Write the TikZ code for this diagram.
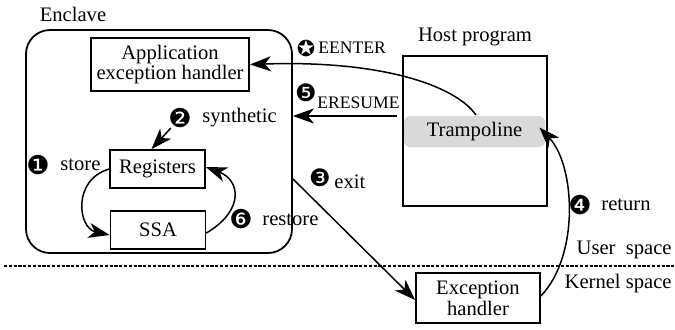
\documentclass[tikz,border=0pt]{standalone}
\usepackage{fontspec}
\setmainfont{Liberation Serif}
\newfontfamily\dvfont{DejaVu Sans}
\usetikzlibrary{arrows.meta}
\begin{document}
\begin{tikzpicture}[x=0.5pt,y=-0.5pt,
  font=\fontsize{10.3}{10.4}\selectfont,
  arr/.style={-{Stealth[length=10.5pt,width=7.5pt,inset=3pt]}, line width=0.75pt},
  box/.style={draw, line width=0.9pt, inner sep=0pt, align=center},
  num/.style={font=\dvfont\fontsize{13}{13}\selectfont, inner sep=0pt},
  lbl/.style={inner sep=0pt, anchor=west},
  small/.style={inner sep=0pt, anchor=west, font=\fontsize{8.8}{9}\selectfont}]
\useasboundingbox (0,0) rectangle (675,329);
% enclave
\node (encl) [draw, line width=0.9pt, rounded corners=12pt, minimum width=133pt, minimum height=111.5pt, inner sep=0pt] at (159,141.5) {};
\node (enclt) at (73,14) {Enclave};
\node (app) [box, minimum width=79pt, minimum height=26.5pt] at (170,64.5) {Application\\exception handler};
\node (reg) [box, minimum width=47.5pt, minimum height=19pt] at (157.5,169) {Registers};
\node (ssa) [box, minimum width=47.5pt, minimum height=19pt] at (158,230) {SSA};
% host
\node (host) [box, minimum width=72pt, minimum height=75pt] at (475,131) {};
\node (hostt) at (475,37) {Host program};
\node (tramp) [fill=black!15, rounded corners=3pt, minimum width=70.5pt, minimum height=15.5pt, inner sep=0pt] at (474.5,131.5) {Trampoline};
\node (exc) [box, minimum width=62pt, minimum height=25pt] at (478,298) {Exception\\handler};
% labels
\node (n2) [num] at (180,118) {❷};
\node (l2) [lbl] at (202,118) {synthetic};
\node (n1) [num] at (38,165) {❶};
\node (l1) [lbl] at (60,165) {store};
\node (n6) [num] at (241,219) {❻};
\node (l6) [lbl] at (262,220) {restore};
\node (ns) [num, font=\dvfont\fontsize{11}{11}\selectfont] at (306,48) {✪};
\node (ls) [small] at (318,48) {EENTER};
\node (n5) [num, font=\dvfont\fontsize{12}{12}\selectfont] at (306,93) {❺};
\node (l5) [small] at (317,103) {ERESUME};
\node (n3) [num, font=\dvfont\fontsize{12}{12}\selectfont] at (320,178) {❸};
\node (l3) [lbl] at (334,182) {exit};
\node (n4) [num] at (580,205) {❹};
\node (l4) [lbl] at (601,205) {return};
\node (us) [inner sep=0pt, anchor=east] at (672,250) {User\ \ space};
\node (ks) [inner sep=0pt, anchor=east] at (672,284) {Kernel space};
% dashed line
\coordinate (dl) at (4,266);
\coordinate (dr) at (675,266);
\draw[dash pattern=on 1.6pt off 0.8pt, line width=0.7pt] (dl) -- (dr);
% arrows
\coordinate (tn) at (476,115);
\draw[arr] (tn) .. controls (455,85) and (380,60) .. (app.east);
\coordinate (er) at (397,116);
\draw[arr] (er) -- (encl.east |- er);
\coordinate (ex) at (293,179);
\draw[arr] (ex) -- ([yshift=-1pt]exc.west);
\draw[arr] ([yshift=1pt]exc.east) .. controls (580,255) and (575,165) .. ([xshift=-3pt,yshift=2pt]tramp.east);
\draw[arr] (n2) -- ([xshift=-3pt]reg.north);
\draw[arr] (reg.west) .. controls (72,180) and (78,228) .. ([yshift=-2.5pt]ssa.west);
\draw[arr] ([yshift=-1.5pt]ssa.east) .. controls (245,210) and (240,180) .. ([yshift=1pt]reg.east);
\end{tikzpicture}
\end{document}
